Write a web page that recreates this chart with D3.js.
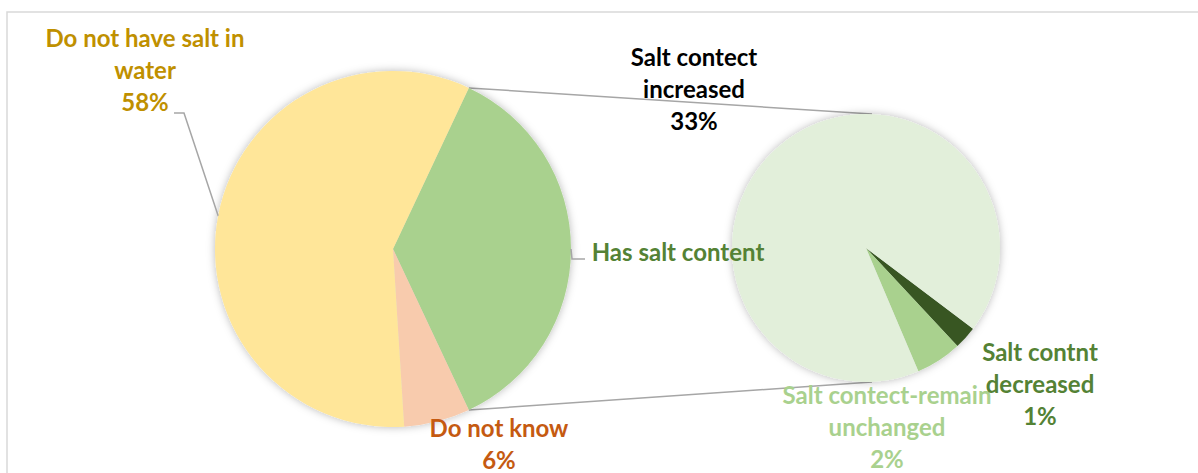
<!DOCTYPE html>
<html lang="en">
<head>
  <meta charset="UTF-8" />
  <title>Salt content in water</title>
  <script src="https://d3js.org/d3.v7.min.js"></script>
  <style>
    body {
      margin: 0;
      background: #fff;
      font-family: Lato, "Open Sans", sans-serif;
    }
    svg {
      display: block;
    }
    .lbl {
      font-weight: 700;
      font-size: 24px;
      text-anchor: middle;
    }
    .leader, .connector {
      stroke: #a6a6a6;
      stroke-width: 1.5;
      fill: none;
    }
  </style>
</head>
<body>
  <div id="chart"></div>

  <script>
    // main pie (the "Has salt content" slice is split out into the second pie)
    const mainNames = ["Has salt content", "Do not know", "Do not have salt in water"];
    const mainValues = [36, 6, 58];
    const mainColors = ["#a9d18e", "#f8cbad", "#ffe699"];

    // breakdown of "Has salt content"
    const subNames = ["Salt contnt decreased", "Salt contect-remain unchanged", "Salt contect increased"];
    const subValues = [1, 2, 33];
    const subColors = ["#375623", "#a9d18e", "#e2efda"];

    const width = 1198, height = 473;
    const main = { cx: 393, cy: 249, r: 178 };
    const sub = { cx: 866, cy: 248, r: 134 };

    const svg = d3.select("#chart").append("svg")
      .attr("width", width)
      .attr("height", height);

    const defs = svg.append("defs");
    defs.append("filter")
      .attr("id", "shadow")
      .attr("x", "-20%").attr("y", "-20%")
      .attr("width", "140%").attr("height", "140%")
      .append("feDropShadow")
      .attr("dx", 0).attr("dy", 0)
      .attr("stdDeviation", 4)
      .attr("flood-color", "#000")
      .attr("flood-opacity", 0.28);

    // chart area border
    svg.append("rect")
      .attr("x", 7).attr("y", 12)
      .attr("width", width + 20).attr("height", height + 20)
      .attr("fill", "none")
      .attr("stroke", "#d9d9d9")
      .attr("stroke-width", 1.5);

    const total = d3.sum(mainValues);
    const splitShare = mainValues[0] / total;

    // split slice centred at 3 o'clock, like Excel's pie-of-pie
    const mainPie = d3.pie().sort(null)
      .startAngle(Math.PI / 2 - splitShare * Math.PI)
      .endAngle(Math.PI / 2 - splitShare * Math.PI + 2 * Math.PI);
    const mainArcs = mainPie(mainValues);

    const subStart = 127 * Math.PI / 180;
    const subPie = d3.pie().sort(null)
      .startAngle(subStart)
      .endAngle(subStart + 2 * Math.PI);
    const subArcs = subPie(subValues);

    const edge = (p, a, r) => [p.cx + (r || p.r) * Math.sin(a), p.cy - (r || p.r) * Math.cos(a)];

    // connector lines between the pies
    const split = mainArcs[0];
    svg.append("line").attr("class", "connector")
      .attr("x1", edge(main, split.startAngle)[0]).attr("y1", edge(main, split.startAngle)[1])
      .attr("x2", sub.cx + 6).attr("y2", sub.cy - sub.r);
    svg.append("line").attr("class", "connector")
      .attr("x1", edge(main, split.endAngle)[0]).attr("y1", edge(main, split.endAngle)[1])
      .attr("x2", sub.cx + 6).attr("y2", sub.cy + sub.r);

    const mainG = svg.append("g")
      .attr("transform", `translate(${main.cx},${main.cy})`)
      .attr("filter", "url(#shadow)");
    mainG.selectAll("path")
      .data(mainArcs)
      .join("path")
      .attr("d", d3.arc().innerRadius(0).outerRadius(main.r))
      .attr("fill", (d, i) => mainColors[i]);

    const subG = svg.append("g")
      .attr("transform", `translate(${sub.cx},${sub.cy})`)
      .attr("filter", "url(#shadow)");
    subG.selectAll("path")
      .data(subArcs)
      .join("path")
      .attr("d", d3.arc().innerRadius(0).outerRadius(sub.r))
      .attr("fill", (d, i) => subColors[i]);

    // leader lines
    const yellow = mainArcs[2];
    const ya = (yellow.startAngle + yellow.endAngle) / 2;
    const yp = edge(main, ya);
    svg.append("path").attr("class", "leader")
      .attr("d", d3.line()([[174, 113], [184, 113], yp]));

    const ga = (split.startAngle + split.endAngle) / 2;
    const gp = edge(main, ga);
    svg.append("path").attr("class", "leader")
      .attr("d", d3.line()([gp, [gp[0] + 1, 259], [585, 259]]));

    // data labels
    const pct = v => Math.round(v) + "%";
    const labels = [
      { lines: ["Do not have salt in", "water", pct(mainValues[2])], x: 145, y: 47, color: "#bf9000" },
      { lines: ["Has salt content"], x: 678, y: 261, color: "#548235" },
      { lines: ["Do not know", pct(mainValues[1])], x: 499, y: 437, color: "#c55a11" },
      { lines: ["Salt contect", "increased", pct(subValues[2])], x: 694, y: 66, color: "#000000" },
      { lines: ["Salt contect-remain", "unchanged", pct(subValues[1])], x: 887, y: 404, color: "#a9d18e" },
      { lines: ["Salt contnt", "decreased", pct(subValues[0])], x: 1040, y: 361, color: "#548235" }
    ];

    labels.forEach(l => {
      const t = svg.append("text")
        .attr("class", "lbl")
        .attr("x", l.x)
        .attr("y", l.y)
        .attr("fill", l.color);
      l.lines.forEach((s, i) => {
        t.append("tspan")
          .attr("x", l.x)
          .attr("dy", i === 0 ? 0 : 32)
          .text(s);
      });
    });
  </script>
</body>
</html>
